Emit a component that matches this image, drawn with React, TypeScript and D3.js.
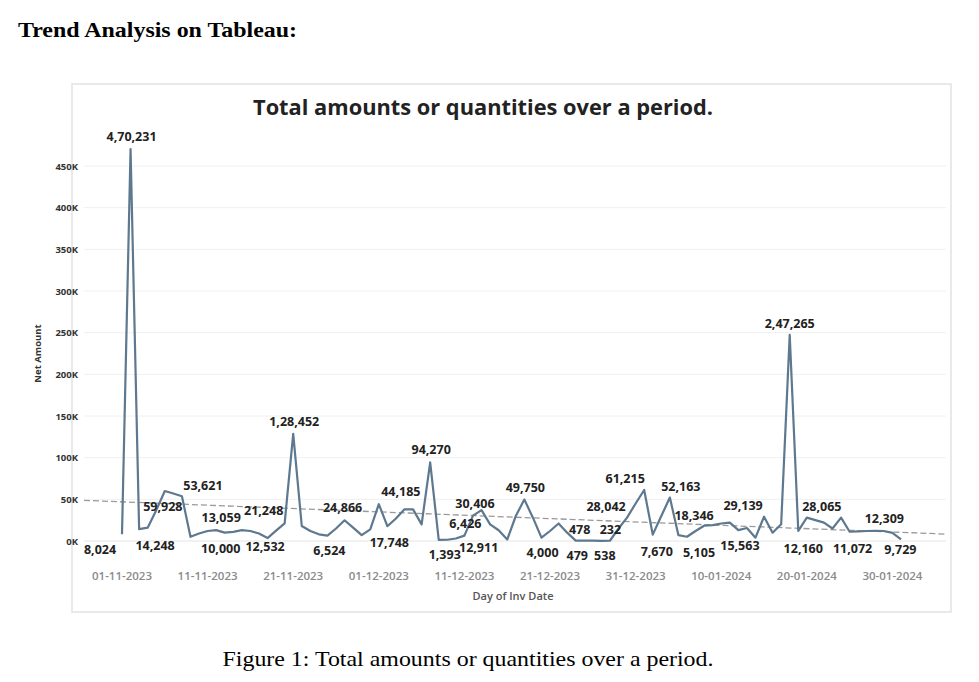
import React from "react";
import * as d3 from "d3";

// daily net amount, starting 01-11-2023
const startDate = "2023-11-01";
const netAmount = [
  8024, 470231, 14248, 16000, 37000, 59928, 57000, 53621, 5000, 9000,
  12000, 13059, 10000, 11000, 13000, 12000, 9000, 3500, 12532, 21248,
  128452, 18000, 12000, 8000, 6524, 15000, 24866, 16000, 7000, 14000,
  44185, 17748, 27000, 38000, 38000, 20000, 94270, 1393, 1500, 3000,
  6426, 30406, 37000, 20000, 12911, 1800, 30000, 49750, 28000, 4000,
  12000, 21000, 10000, 478, 479, 538, 232, 300, 15000, 28042,
  45000, 61215, 7670, 30000, 52163, 7000, 5105, 12000, 18346, 19000,
  21000, 22000, 13000, 15563, 4000, 29139, 10000, 20000, 247265, 12160,
  28065, 25000, 22000, 15000, 28000, 11072, 11500, 12000, 12309, 12000,
  9729, 2000,
];

// trend line (value at first and last day)
const trendStart = 47000;
const trendEnd = 10400;

const yTicks = [0, 50000, 100000, 150000, 200000, 250000, 300000, 350000, 400000, 450000];
const xTicks = ["2023-11-01", "2023-11-11", "2023-11-21", "2023-12-01", "2023-12-11",
  "2023-12-21", "2023-12-31", "2024-01-10", "2024-01-20", "2024-01-30"];

// which days carry a mark label
const labelDays = [0, 1, 2, 5, 7, 11, 12, 18, 19, 20, 24, 26, 30, 31, 36, 37, 40, 41, 44,
  47, 49, 53, 54, 55, 56, 59, 61, 62, 64, 66, 68, 73, 75, 78, 79, 80, 85, 88, 90];

// label offsets from the mark [dx, dy]
const labelOffsets: [number, number][] = [
  [-22, 20], [1, -8], [16, 21], [-2, 20], [21, -6], [5, -8], [-4, 20], [-11, 20], [-21, -8], [1, -8],
  [2, 19], [-2, -8], [22, -8], [2, 21], [1, -8], [6, 19], [1, -8], [2, -8], [-20, 22],
  [1, -8], [1, 19], [4, -7], [-7, 19], [12, 19], [9, -7], [-21, -7], [-19, -7], [4, 21], [11, -7],
  [12, 20], [-10, -6], [-7, 22], [-21, -7], [0, -7], [5, 22], [15, -7], [3, 21], [9, -8], [8, 21],
];

const fmt = d3.formatLocale({ decimal: ".", thousands: ",", grouping: [3, 2, 2, 2], currency: ["", ""] }).format(",d");
const chartFont = "'Open Sans', 'DejaVu Sans', sans-serif";

export default function App() {
  const t0 = d3.timeParse("%Y-%m-%d")(startDate) as Date;
  const data = netAmount.map((v, i) => ({ date: d3.timeDay.offset(t0, i), value: v }));

  const x = d3.scaleTime()
    .domain([data[0].date, data[data.length - 1].date])
    .range([122, 901]);
  const y = d3.scaleLinear().domain([0, 450000]).range([541, 166]);

  const line = d3.line<{ date: Date; value: number }>()
    .x((d) => x(d.date))
    .y((d) => y(d.value));

  // extend trend to the plot edges
  const gridLeft = 84;
  const gridRight = 946;
  const trend = d3.scaleLinear().domain([x(data[0].date), x(data[data.length - 1].date)]).range([trendStart, trendEnd]);

  const parse = d3.timeParse("%Y-%m-%d");
  const tickFmt = d3.timeFormat("%d-%m-%Y");

  return (
    <svg width={979} height={682} style={{ display: "block", background: "#fff" }}>
      <style>{`body{margin:0}`}</style>
      <text x={18} y={37} fontFamily="'Liberation Serif', serif" fontWeight="bold" fontSize={22} fill="#000"
        textLength={279} lengthAdjust="spacingAndGlyphs">
        Trend Analysis on Tableau:
      </text>

      <rect x={72} y={84} width={879} height={528} fill="#fff" stroke="#e2e2e2" strokeWidth={1.5} />

      <text x={483} y={115} textAnchor="middle" fontFamily={chartFont} fontWeight="bold" fontSize={21} fill="#222"
        textLength={460} lengthAdjust="spacingAndGlyphs">
        Total amounts or quantities over a period.
      </text>

      {yTicks.map((t) => (
        <g key={t}>
          <line x1={gridLeft} x2={gridRight} y1={y(t)} y2={y(t)} stroke={t === 0 ? "#e4e4e4" : "#f0f0f0"} strokeWidth={1} />
          <text x={78} y={y(t) + 3.5} textAnchor="end" fontFamily={chartFont} fontWeight="bold" fontSize={9.5} fill="#333">
            {t / 1000}K
          </text>
        </g>
      ))}

      <text transform={`translate(41,${y(225000)}) rotate(-90)`} textAnchor="middle" fontFamily={chartFont}
        fontWeight="bold" fontSize={9.5} fill="#333">
        Net Amount
      </text>

      {xTicks.map((d) => (
        <text key={d} x={x(parse(d) as Date)} y={580} textAnchor="middle" fontFamily={chartFont}
          fontWeight={600} fontSize={11.5} fill="#8a8a8a">
          {tickFmt(parse(d) as Date)}
        </text>
      ))}
      <text x={513} y={600} textAnchor="middle" fontFamily={chartFont} fontWeight={600} fontSize={11} fill="#555">
        Day of Inv Date
      </text>

      <line x1={gridLeft} x2={gridRight} y1={y(trend(gridLeft))} y2={y(trend(gridRight))}
        stroke="#9a9a9a" strokeWidth={1.3} strokeDasharray="6,3" />

      <path d={line(data) ?? ""} fill="none" stroke="#5d788f" strokeWidth={2.2} strokeLinejoin="round" />

      {labelDays.map((day, i) => {
        const d = data[day];
        const [dx, dy] = labelOffsets[i];
        return (
          <text key={day} x={x(d.date) + dx} y={y(d.value) + dy} textAnchor="middle" fontFamily={chartFont}
            fontWeight="bold" fontSize={12.5} fill="#222">
            {fmt(d.value)}
          </text>
        );
      })}

      <text x={468} y={666} textAnchor="middle" fontFamily="'Liberation Serif', serif" fontSize={21} fill="#000"
        textLength={491} lengthAdjust="spacingAndGlyphs">
        Figure 1: Total amounts or quantities over a period.
      </text>
    </svg>
  );
}
